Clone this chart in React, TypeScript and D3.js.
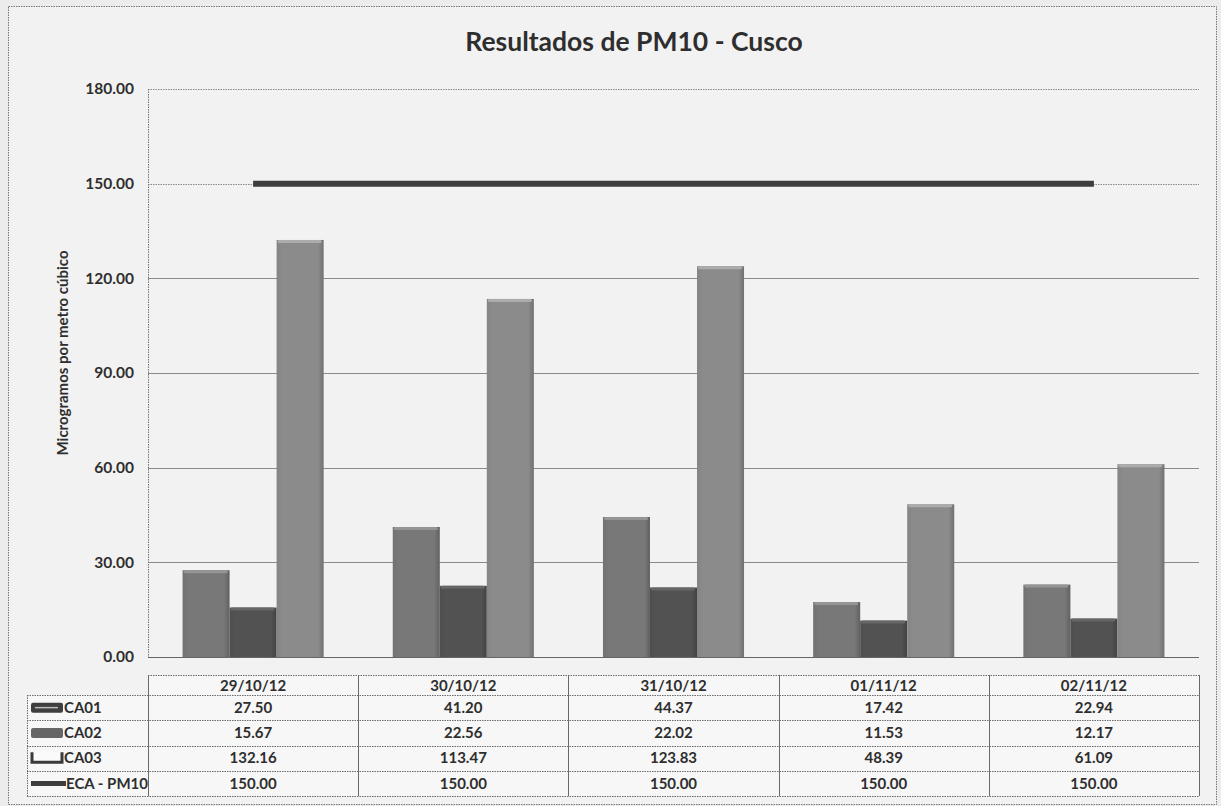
import React, { useEffect, useRef } from "react";
import * as d3 from "d3";

const title = "Resultados de PM10 - Cusco";
const yLabel = "Microgramos por metro cúbico";
const dates = ["29/10/12", "30/10/12", "31/10/12", "01/11/12", "02/11/12"];
const barSeries = ["CA01", "CA02", "CA03"];
const ca01 = [27.5, 41.2, 44.37, 17.42, 22.94];
const ca02 = [15.67, 22.56, 22.02, 11.53, 12.17];
const ca03 = [132.16, 113.47, 123.83, 48.39, 61.09];
const eca = [150, 150, 150, 150, 150];
const lineName = "ECA - PM10";
const yTicks = [0, 30, 60, 90, 120, 150, 180];

const barColors: Record<string, string> = {
  CA01: "#787878",
  CA02: "#525252",
  CA03: "#8b8b8b",
};

const App = () => {
  const ref = useRef<SVGSVGElement>(null);

  useEffect(() => {
    const svg = d3.select(ref.current);
    svg.selectAll("*").remove();

    const width = 1221;
    const height = 806;
    const margin = { top: 89, right: 22, bottom: 149, left: 148 };
    const font = "Lato, 'Open Sans', sans-serif";
    const textColor = "#2e2e2e";

    svg.attr("width", width).attr("height", height);

    // page + chart background
    svg.append("rect").attr("width", width).attr("height", height).attr("fill", "#ececec");
    svg
      .append("rect")
      .attr("x", 8.5)
      .attr("y", 6.5)
      .attr("width", 1208)
      .attr("height", 798)
      .attr("fill", "#f2f2f2")
      .attr("stroke", "#777")
      .attr("stroke-dasharray", "1.5,1");

    const x = d3
      .scaleBand()
      .domain(dates)
      .range([margin.left, width - margin.right]);
    const x1 = d3
      .scaleBand()
      .domain(barSeries)
      .range([0, x.bandwidth()])
      .paddingOuter(0.735);
    const y = d3
      .scaleLinear()
      .domain([0, 180])
      .range([height - margin.bottom, margin.top]);

    // gradients for the bevelled bars
    const defs = svg.append("defs");
    barSeries.forEach((s) => {
      const c = d3.color(barColors[s])!;
      const g = defs
        .append("linearGradient")
        .attr("id", `grad-${s}`)
        .attr("x1", 0)
        .attr("x2", 1);
      g.append("stop").attr("offset", "0%").attr("stop-color", c.darker(0.15).toString());
      g.append("stop").attr("offset", "12%").attr("stop-color", c.toString());
      g.append("stop").attr("offset", "88%").attr("stop-color", c.toString());
      g.append("stop").attr("offset", "100%").attr("stop-color", c.darker(0.6).toString());
    });

    // grid
    svg
      .append("g")
      .selectAll("line")
      .data(yTicks)
      .join("line")
      .attr("x1", margin.left)
      .attr("x2", width - margin.right)
      .attr("y1", (d) => Math.round(y(d)) + 0.5)
      .attr("y2", (d) => Math.round(y(d)) + 0.5)
      .attr("stroke", (d) => (d === 0 ? "#666" : "#8a8a8a"))
      .attr("stroke-dasharray", (d) => (d === 180 || d === 150 ? "1.5,1" : null));

    svg
      .append("line")
      .attr("x1", margin.left + 0.5)
      .attr("x2", margin.left + 0.5)
      .attr("y1", y(180))
      .attr("y2", y(0))
      .attr("stroke", "#777")
      .attr("stroke-dasharray", "1.5,1");

    // y tick labels
    svg
      .append("g")
      .selectAll("text")
      .data(yTicks)
      .join("text")
      .attr("x", 134)
      .attr("y", (d) => y(d))
      .attr("dy", "0.35em")
      .attr("text-anchor", "end")
      .attr("font-family", font)
      .attr("font-weight", "bold")
      .attr("font-size", 15.5)
      .attr("fill", textColor)
      .text((d) => d3.format(".2f")(d));

    // y label
    svg
      .append("text")
      .attr("transform", `translate(68,353) rotate(-90)`)
      .attr("text-anchor", "middle")
      .attr("font-family", font)
      .attr("font-weight", "bold")
      .attr("font-size", 15)
      .attr("fill", textColor)
      .text(yLabel);

    // title
    svg
      .append("text")
      .attr("x", 634)
      .attr("y", 51)
      .attr("text-anchor", "middle")
      .attr("font-family", font)
      .attr("font-weight", "bold")
      .attr("font-size", 26.5)
      .attr("fill", textColor)
      .text(title);

    // bars
    const seriesValues: Record<string, number[]> = { CA01: ca01, CA02: ca02, CA03: ca03 };
    const barData = barSeries.flatMap((s) =>
      dates.map((d, i) => ({ series: s, date: d, value: seriesValues[s][i] }))
    );

    const bars = svg.append("g");
    bars
      .selectAll("rect.bar")
      .data(barData)
      .join("rect")
      .attr("class", "bar")
      .attr("x", (d) => x(d.date)! + x1(d.series)!)
      .attr("y", (d) => y(d.value))
      .attr("width", x1.bandwidth())
      .attr("height", (d) => y(0) - y(d.value))
      .attr("fill", (d) => `url(#grad-${d.series})`);

    // bevel highlight on top
    bars
      .selectAll("rect.top")
      .data(barData)
      .join("rect")
      .attr("class", "top")
      .attr("x", (d) => x(d.date)! + x1(d.series)! + 1)
      .attr("y", (d) => y(d.value))
      .attr("width", x1.bandwidth() - 3)
      .attr("height", 3)
      .attr("rx", 1.5)
      .attr("fill", (d) => d3.color(barColors[d.series])!.brighter(0.6).toString());

    // ECA line
    const line = d3
      .line<number>()
      .x((_, i) => x(dates[i])! + x.bandwidth() / 2)
      .y((d) => y(d));
    svg
      .append("path")
      .datum(eca)
      .attr("d", line)
      .attr("fill", "none")
      .attr("stroke", "#3d3d3d")
      .attr("stroke-width", 6);

    // data table
    const tableTop = 675;
    const headerH = 20;
    const rowH = 25.25;
    const tableLeft = 27;
    const rows = [
      { name: "CA01", values: ca01 },
      { name: "CA02", values: ca02 },
      { name: "CA03", values: ca03 },
      { name: lineName, values: eca },
    ];
    const table = svg.append("g");
    const gridStroke = "#6a6a6a";

    table
      .append("rect")
      .attr("x", margin.left)
      .attr("y", tableTop)
      .attr("width", width - margin.right - margin.left)
      .attr("height", headerH)
      .attr("fill", "#f7f7f7");
    table
      .append("rect")
      .attr("x", tableLeft)
      .attr("y", tableTop + headerH)
      .attr("width", width - margin.right - tableLeft)
      .attr("height", rowH * rows.length)
      .attr("fill", "#f7f7f7");

    // horizontal rules
    const hLines = [tableTop, ...d3.range(rows.length + 1).map((i) => tableTop + headerH + i * rowH)];
    table
      .selectAll("line.h")
      .data(hLines)
      .join("line")
      .attr("class", "h")
      .attr("x1", (_, i) => (i === 0 ? margin.left : tableLeft))
      .attr("x2", width - margin.right)
      .attr("y1", (d) => Math.round(d) + 0.5)
      .attr("y2", (d) => Math.round(d) + 0.5)
      .attr("stroke", gridStroke)
      .attr("stroke-dasharray", "1.5,1");

    // vertical rules
    const vLines = [...dates.map((d) => x(d)!), width - margin.right];
    table
      .selectAll("line.v")
      .data(vLines)
      .join("line")
      .attr("class", "v")
      .attr("x1", (d) => Math.round(d) + 0.5)
      .attr("x2", (d) => Math.round(d) + 0.5)
      .attr("y1", tableTop)
      .attr("y2", tableTop + headerH + rowH * rows.length)
      .attr("stroke", gridStroke);
    table
      .append("line")
      .attr("x1", tableLeft + 0.5)
      .attr("x2", tableLeft + 0.5)
      .attr("y1", tableTop + headerH)
      .attr("y2", tableTop + headerH + rowH * rows.length)
      .attr("stroke", gridStroke)
      .attr("stroke-dasharray", "1.5,1");

    const cellText = (sel: d3.Selection<SVGTextElement, any, any, any>) =>
      sel
        .attr("font-family", font)
        .attr("font-weight", "bold")
        .attr("font-size", 15)
        .attr("fill", textColor)
        .attr("dy", "0.35em");

    // header
    table
      .selectAll("text.head")
      .data(dates)
      .join("text")
      .attr("class", "head")
      .attr("x", (d) => x(d)! + x.bandwidth() / 2)
      .attr("y", tableTop + headerH / 2 + 1)
      .attr("text-anchor", "middle")
      .call(cellText)
      .text((d) => d);

    rows.forEach((r, ri) => {
      const cy = tableTop + headerH + ri * rowH + rowH / 2;
      table
        .append("g")
        .selectAll("text")
        .data(r.values)
        .join("text")
        .attr("x", (_, i) => x(dates[i])! + x.bandwidth() / 2)
        .attr("y", cy)
        .attr("text-anchor", "middle")
        .call(cellText)
        .text((d) => d3.format(".2f")(d));

      table
        .append("text")
        .attr("x", r.name === lineName ? 66 : 64)
        .attr("y", cy)
        .call(cellText)
        .text(r.name);

      // legend keys
      if (r.name === lineName) {
        table
          .append("line")
          .attr("x1", 31)
          .attr("x2", 66)
          .attr("y1", cy)
          .attr("y2", cy)
          .attr("stroke", "#3d3d3d")
          .attr("stroke-width", 5);
      } else if (r.name === "CA03") {
        table
          .append("path")
          .attr("d", `M32,${cy - 6} V${cy + 4} H62 V${cy - 6}`)
          .attr("fill", "#fafafa")
          .attr("stroke", "#3a3a3a")
          .attr("stroke-width", 3);
      } else {
        table
          .append("rect")
          .attr("x", 31)
          .attr("y", cy - 5)
          .attr("width", 32)
          .attr("height", 10)
          .attr("rx", 2)
          .attr("fill", r.name === "CA01" ? "#3f3f3f" : "#666");
        if (r.name === "CA01") {
          table
            .append("line")
            .attr("x1", 35)
            .attr("x2", 58)
            .attr("y1", cy)
            .attr("y2", cy)
            .attr("stroke", "#bbb")
            .attr("stroke-width", 1.5);
        }
      }
    });
  }, []);

  return <svg ref={ref} style={{ position: "absolute", left: 0, top: 0 }}></svg>;
};

export default App;
